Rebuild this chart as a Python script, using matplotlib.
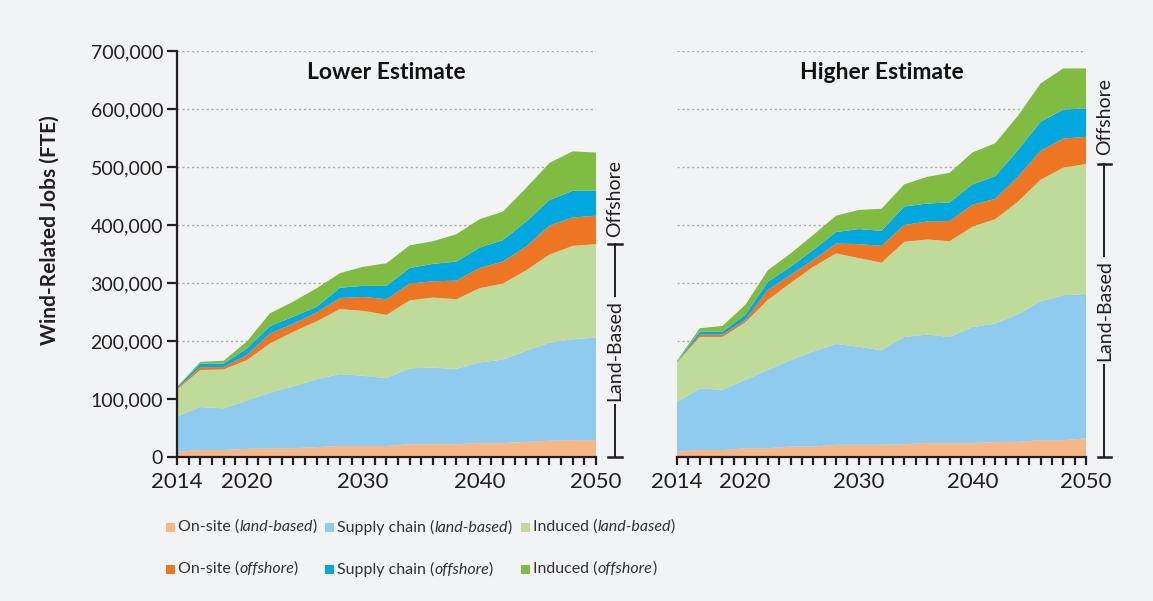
import matplotlib
matplotlib.use("Agg")
import matplotlib.pyplot as plt
from matplotlib.patches import Rectangle
from matplotlib.offsetbox import TextArea, HPacker, AnnotationBbox
import matplotlib.transforms as mtransforms

plt.rcParams['font.family'] = ['Lato', 'DejaVu Sans']

years = list(range(2014, 2051, 2))

# Lower estimate, jobs in thousands FTE
low_onsite_land = [9, 12, 12, 14, 15, 15, 17, 19, 19, 19, 22, 22, 22, 24, 24, 26, 28, 29, 29]
low_supply_land = [61, 74, 72, 83, 96, 107, 117, 124, 121, 117, 131, 132, 130, 139, 144, 157, 169, 174, 177]
low_induced_land = [46, 64, 67, 70, 85, 94, 100, 112, 112, 109, 117, 121, 120, 128, 131, 139, 152, 161, 161]
low_onsite_off = [2, 5, 4, 9, 17, 14, 15, 19, 24, 27, 29, 28, 32, 35, 38, 41, 50, 49, 49]
low_supply_off = [2, 6, 6, 11, 13, 12, 10, 18, 19, 23, 27, 30, 33, 35, 37, 43, 44, 46, 43]
low_induced_off = [1, 3, 5, 12, 22, 26, 32, 25, 33, 39, 39, 39, 47, 49, 49, 58, 64, 68, 66]

# Higher estimate, jobs in thousands FTE
high_onsite_land = [9, 12, 12, 15, 15, 18, 18, 21, 21, 21, 22, 24, 24, 24, 26, 26, 29, 29, 32]
high_supply_land = [86, 106, 104, 118, 135, 149, 164, 174, 169, 163, 185, 187, 183, 200, 204, 220, 239, 250, 249]
high_induced_land = [68, 89, 91, 99, 121, 133, 146, 156, 153, 151, 164, 164, 165, 173, 180, 194, 210, 220, 224]
high_onsite_off = [0, 4, 4, 4, 17, 14, 12, 17, 24, 29, 29, 31, 35, 38, 35, 43, 50, 50, 47]
high_supply_off = [1, 5, 5, 9, 14, 14, 17, 20, 26, 26, 32, 31, 32, 35, 39, 46, 50, 50, 49]
high_induced_off = [2, 6, 10, 17, 20, 23, 26, 28, 33, 38, 38, 46, 51, 55, 57, 59, 66, 71, 69]

colors = ['#f6b686', '#8fcbee', '#bedb9a', '#ee7623', '#00a8df', '#80bc42']
legend_parts = [
    ('On-site (', 'land-based', ')'),
    ('Supply chain (', 'land-based', ')'),
    ('Induced (', 'land-based', ')'),
    ('On-site (', 'offshore', ')'),
    ('Supply chain (', 'offshore', ')'),
    ('Induced (', 'offshore', ')'),
]
x_tick_labels = [2014, 2020, 2030, 2040, 2050]

bg = '#f2f3f5'
ink = '#231f20'


def bracket(ax, land_top, total):
    trans = mtransforms.blended_transform_factory(ax.transAxes, ax.transData)
    x = 1.045
    cap = 0.016
    ax.plot([x, x], [0, land_top], color=ink, lw=1.4, transform=trans, clip_on=False)
    for yv in (0, land_top):
        ax.plot([x - cap, x + cap], [yv, yv], color=ink, lw=1.8,
                transform=trans, clip_on=False)
    ax.text(x, land_top / 2, 'Land-Based', rotation=90, ha='center', va='center',
            fontsize=14, color=ink, transform=trans,
            bbox=dict(facecolor=bg, edgecolor='none', pad=2))
    ax.text(x, (land_top + total) / 2, 'Offshore', rotation=90, ha='center',
            va='center', fontsize=14, color=ink, transform=trans)


def draw_panel(ax, layers, title):
    ax.set_facecolor(bg)
    vals = [[v * 1000 for v in layer] for layer in layers]
    ax.stackplot(years, *vals, colors=colors, linewidth=0, zorder=2)
    ax.set_xlim(2014, 2050)
    ax.set_ylim(0, 700000)
    ax.set_yticks(range(0, 700001, 100000))
    for yv in range(100000, 700001, 100000):
        ax.axhline(yv, color='#a7a9ac', lw=1.0, ls=(0, (1.5, 2)), zorder=1)
    ax.set_xticks(range(2014, 2051))
    ax.set_xticklabels([str(y) if y in x_tick_labels else '' for y in range(2014, 2051)])
    ax.tick_params(axis='x', direction='out', length=6, width=1.6, color=ink,
                   labelsize=16, labelcolor=ink, pad=5)
    for s in ('top', 'right'):
        ax.spines[s].set_visible(False)
    ax.spines['bottom'].set_color(ink)
    ax.spines['bottom'].set_linewidth(1.6)
    ax.spines['bottom'].set_zorder(3)
    ax.text(0.5, 0.946, title, transform=ax.transAxes, ha='center', va='center',
            fontsize=16.5, fontweight='bold', color='#111111')
    total = [sum(col) * 1000 for col in zip(*layers)]
    land = [(a + b + c) * 1000 for a, b, c in zip(*layers[:3])]
    bracket(ax, land[-1], total[-1])


fig = plt.figure(figsize=(11.53, 6.01), dpi=100, facecolor=bg)
ax1 = fig.add_axes([177 / 1153, 1 - 457 / 601, 419 / 1153, 406 / 601])
ax2 = fig.add_axes([677 / 1153, 1 - 457 / 601, 409 / 1153, 406 / 601])

draw_panel(ax1, [low_onsite_land, low_supply_land, low_induced_land,
                 low_onsite_off, low_supply_off, low_induced_off], 'Lower Estimate')
draw_panel(ax2, [high_onsite_land, high_supply_land, high_induced_land,
                 high_onsite_off, high_supply_off, high_induced_off], 'Higher Estimate')

ax1.spines['left'].set_color(ink)
ax1.spines['left'].set_linewidth(1.6)
ax1.spines['left'].set_zorder(3)
ax1.set_yticklabels([f'{v:,}' for v in range(0, 700001, 100000)])
ax1.tick_params(axis='y', direction='out', length=7, width=1.6, color=ink,
                labelsize=14, labelcolor=ink, pad=3)
ax1.set_ylabel('Wind-Related Jobs (FTE)', fontsize=15, fontweight='bold',
               color=ink)
ax1.yaxis.set_label_coords(-0.28, 0.559)

ax2.spines['left'].set_visible(False)
ax2.tick_params(axis='y', left=False, labelleft=False)

# legend: two rows of three entries
col_x = [166, 325, 521]
row_y = [527, 569]
for i, (pre, it, post) in enumerate(legend_parts):
    r, c = divmod(i, 3)
    x0, y0 = col_x[c], row_y[r]
    fig.patches.append(Rectangle((x0 / 1153, 1 - (y0 + 4.5) / 601), 9 / 1153, 9 / 601,
                                 transform=fig.transFigure, facecolor=colors[i],
                                 edgecolor='none'))
    style = dict(fontsize=11.5, color='#333333')
    box = HPacker(children=[TextArea(pre, textprops=style),
                            TextArea(it, textprops=dict(style, fontstyle='italic')),
                            TextArea(post, textprops=style)],
                  pad=0, sep=0, align='baseline')
    ab = AnnotationBbox(box, ((x0 + 12) / 1153, 1 - y0 / 601), xycoords='figure fraction',
                        box_alignment=(0, 0.5), frameon=False, pad=0)
    fig.add_artist(ab)

fig.savefig('out.png', dpi=100, facecolor=bg)
